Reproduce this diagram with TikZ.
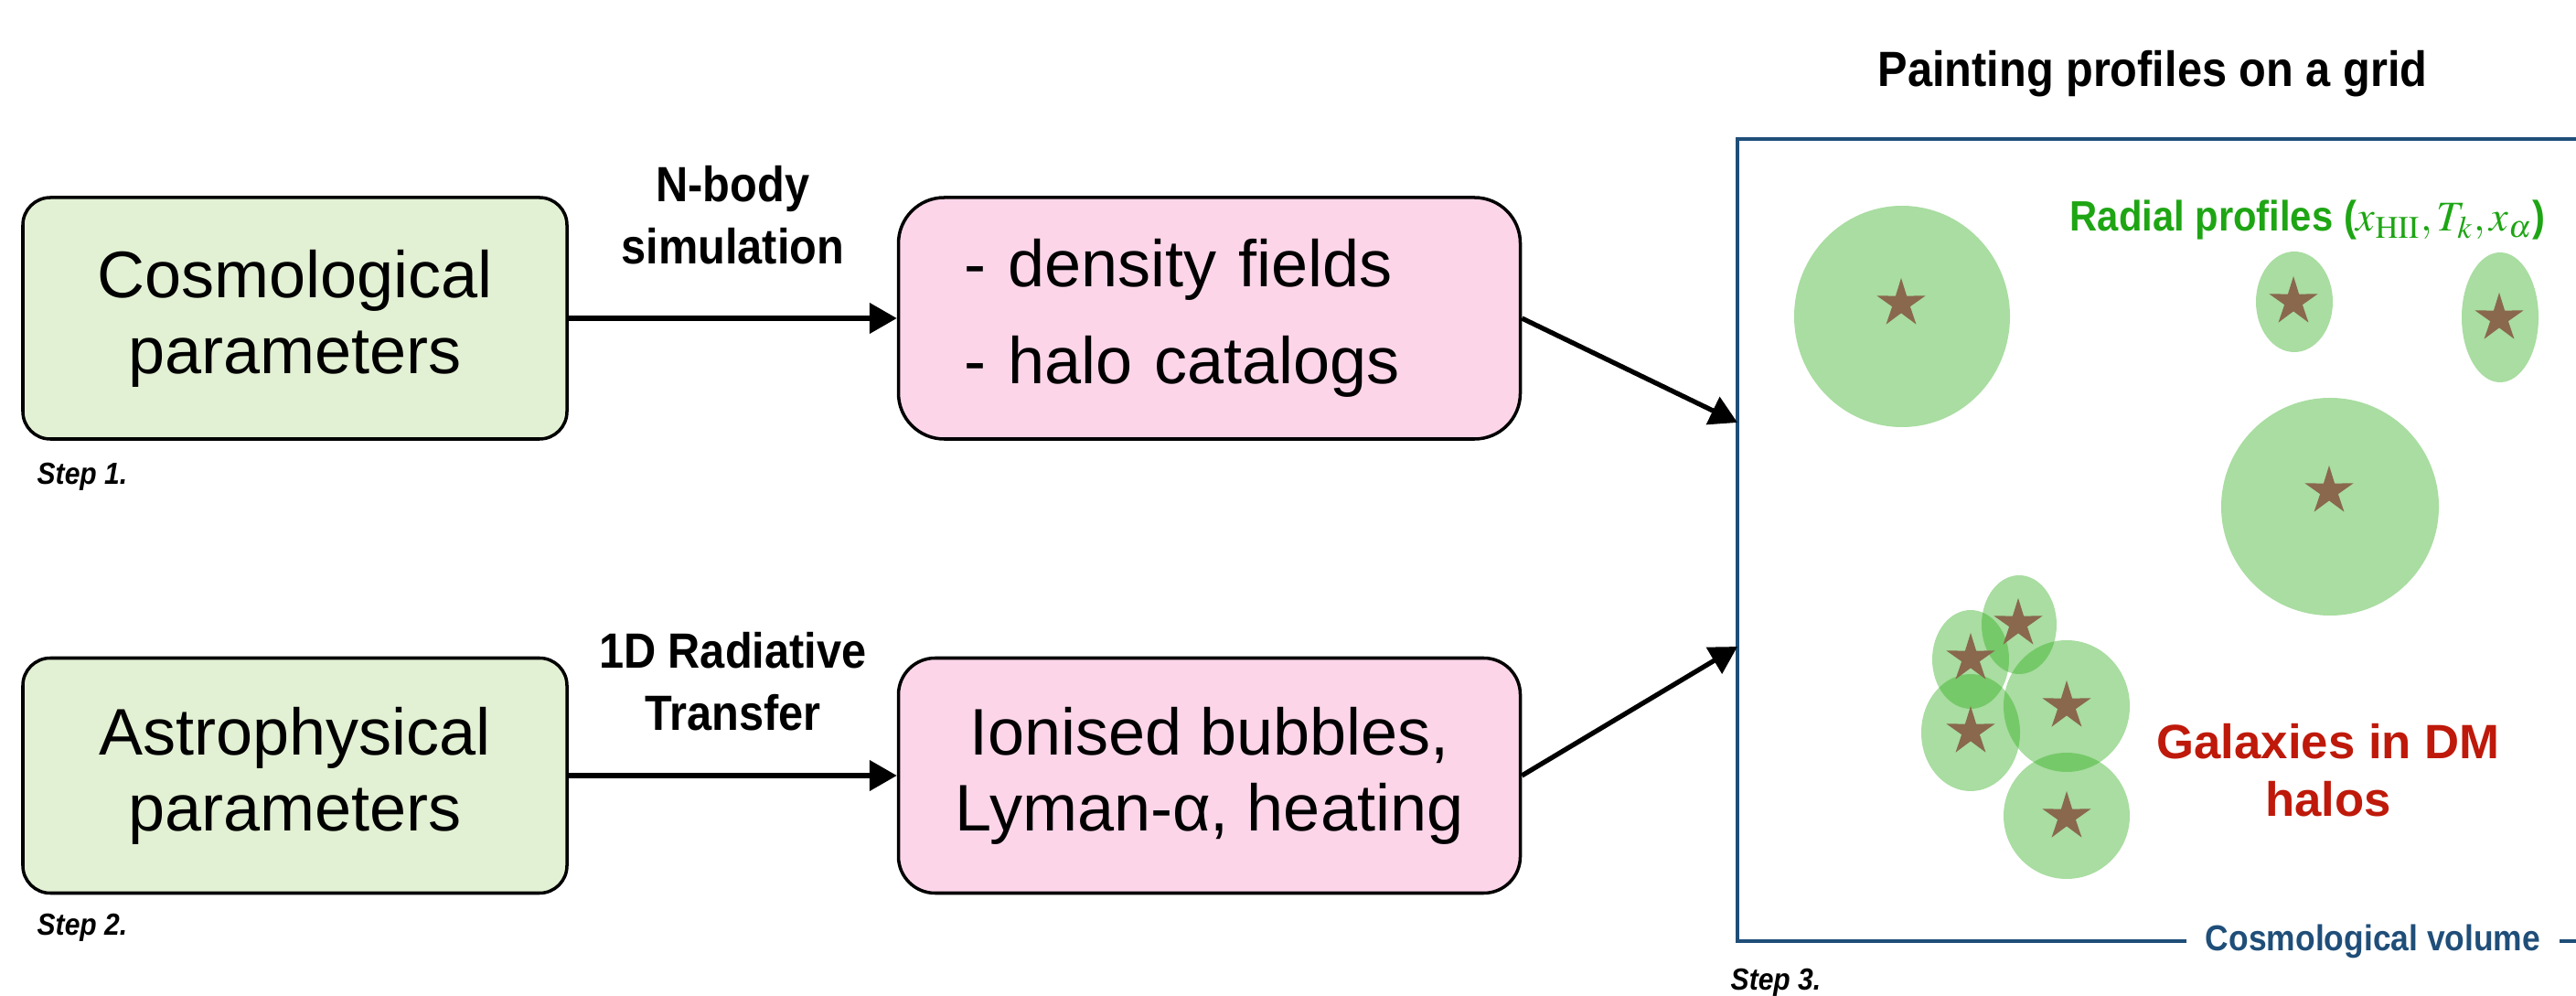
\documentclass[tikz,border=0pt]{standalone}
\usepackage{mathptmx}
\usepackage[no-math]{fontspec}
\setmainfont{Liberation Sans}
\newfontfamily\condsf[FakeStretch=0.9]{Liberation Sans}
\usetikzlibrary{arrows.meta,positioning,shapes.geometric}

\definecolor{paramgreen}{RGB}{226,240,211}
\definecolor{outpink}{RGB}{252,213,233}
\definecolor{halogreen}{RGB}{40,170,20}
\definecolor{galbrown}{RGB}{137,104,78}
\definecolor{volblue}{RGB}{31,78,121}
\definecolor{profgreen}{RGB}{30,165,20}
\definecolor{dmred}{RGB}{190,25,10}

\begin{document}
\begin{tikzpicture}[
    box/.style={draw=black, line width=1pt, align=center,
      font={\fontsize{20.5}{23.6}\selectfont}},
    param/.style={box, fill=paramgreen, rounded corners=0.3cm,
      minimum width=5.95cm, minimum height=2.64cm},
    output/.style={box, fill=outpink, minimum width=6.8cm, minimum height=2.64cm},
    flow/.style={-{Triangle[length=8.5pt,width=9.3pt]}, line width=1.5pt},
    lbl/.style={font={\condsf\bfseries\fontsize{15.4}{19.4}\selectfont},
      align=center, inner sep=0pt},
    steplbl/.style={font={\condsf\bfseries\itshape\fontsize{9.5}{11}\selectfont},
      anchor=base west, inner sep=0pt},
    frame/.style={draw=volblue, line width=1.3pt},
    halo/.style={fill=halogreen, fill opacity=0.4},
    gal/.style={star, star points=5, star point ratio=2.7, fill=galbrown,
      inner sep=0pt, minimum size=0.56cm},
  ]
  \useasboundingbox (0,0) rectangle (28.17,10.88);

  % inputs and intermediate products
  \node[param] (cosmo) at (3.225,7.40) {Cosmological\\parameters};
  \node[output, right=3.59cm of cosmo, rounded corners=0.5cm, align=left,
    text width=5.36cm, inner xsep=0.72cm,
    font={\fontsize{20.5}{30}\selectfont}] (fields) {- density fields\\- halo catalogs};
  \node[param, minimum height=2.57cm] (astro) at (3.225,2.40) {Astrophysical\\parameters};
  \node[output, right=3.59cm of astro, rounded corners=0.4cm,
    minimum height=2.57cm] (bubbles) {Ionised bubbles,\\Lyman-α, heating};

  \node[steplbl] (step1) at (0.40,5.58) {Step 1.};
  \node[steplbl] (step2) at (0.40,0.66) {Step 2.};

  \draw[flow] (cosmo) -- node[lbl, above=0.56cm] (nbody) {N-body\\simulation} (fields);
  \draw[flow] (astro) -- node[lbl, above=0.46cm] (rt) {1D Radiative\\Transfer} (bubbles);

  % the simulation box
  \coordinate (gsw) at (19.0,0.59);
  \coordinate (gnw) at (19.0,9.36);
  \coordinate (in1) at (19.0,6.26);
  \coordinate (in2) at (19.0,3.81);
  \node[font={\condsf\bfseries\fontsize{11.2}{13}\selectfont}, text=volblue,
    inner xsep=0.2cm, inner ysep=0pt] (vol) at (25.95,0.59) {Cosmological volume};
  \draw[frame] (vol.west) -- (gsw) -- (gnw) -- (28.17,9.36);
  \draw[frame] (vol.east) -- (28.17,0.59);
  \node[steplbl] (step3) at (18.92,0.06) {Step 3.};

  \draw[flow] (fields.east) -- (in1);
  \draw[flow] (bubbles.east) -- (in2);

  \node[lbl, anchor=base] (title) at (23.54,9.93) {Painting profiles on a grid};

  % halos and their profiles
  \foreach \x/\y/\rx/\ry in {20.80/7.42/1.18/1.21, 25.09/7.58/0.42/0.55,
      27.34/7.41/0.42/0.71, 25.48/5.34/1.19/1.19, 22.08/4.05/0.41/0.54,
      21.55/3.67/0.42/0.54, 21.55/2.87/0.54/0.64, 22.60/3.16/0.69/0.72,
      22.60/1.96/0.69/0.69}
    \fill[halo] (\x,\y) ellipse [x radius=\rx, y radius=\ry];
  \foreach \x/\y [count=\i] in {20.79/7.56, 25.08/7.58, 27.33/7.40, 25.47/5.51,
      22.07/4.06, 21.55/3.68, 21.55/2.88, 22.60/3.16, 22.60/1.95}
    \node[gal] (gal\i) at (\x,\y) {};

  \node[anchor=base west, inner sep=0pt, text=profgreen,
    font={\condsf\bfseries\fontsize{13.2}{15}\selectfont}] (radial) at (22.63,8.35)
    {Radial profiles ($x_{\mathrm{HII}}, T_k, x_\alpha$)};
  \node[align=center, inner sep=0pt, text=dmred,
    font={\bfseries\fontsize{15}{18}\selectfont}] (dm) at (25.46,2.46)
    {Galaxies in DM\\halos};
\end{tikzpicture}
\end{document}
